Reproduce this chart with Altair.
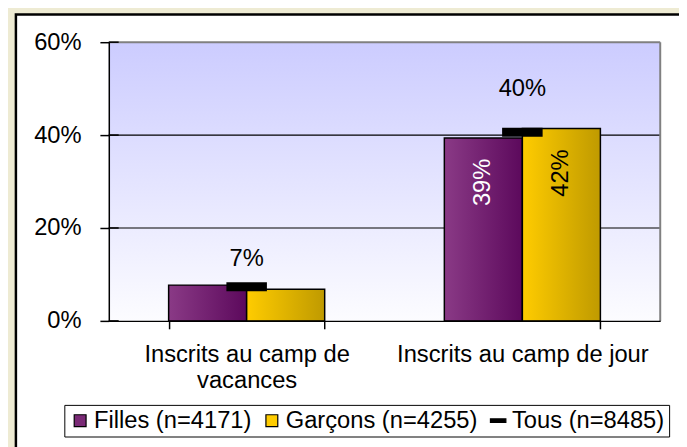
import altair as alt
import pandas as pd

FONT = "Liberation Sans"

categories = ["Inscrits au camp de vacances", "Inscrits au camp de jour"]
sexes = ["Filles", "Garçons"]
filles = [7.7, 39.4]
garcons = [6.8, 41.4]
tous = [7.35, 40.6]
filles_labels = ["", "39%"]
garcons_labels = ["", "42%"]
tous_labels = ["7%", "40%"]
y_ticks = [0, 20, 40, 60]
grid_values = [20, 40]
legend_names = ["Filles (n=4171)", "Garçons (n=4255)", "Tous (n=8485)"]
legend_colors = ["#7A2A76", "#FFCC00", "#000000"]
legend_shapes = ["square", "square", "M-1.3,-0.3H1.3V0.3H-1.3Z"]

bars_df = pd.DataFrame({
    "category": categories * 2,
    "sex": [sexes[0]] * 2 + [sexes[1]] * 2,
    "value": filles + garcons,
    "label": filles_labels + garcons_labels,
})
tous_df = pd.DataFrame({"category": categories, "value": tous, "label": tous_labels})
grid_df = pd.DataFrame({"value": grid_values})
ticks_df = pd.DataFrame({"value": y_ticks})
legend_df = pd.DataFrame({"series": legend_names})
one = pd.DataFrame({"k": [0]})

x_enc = alt.X(
    "category:N",
    sort=categories,
    scale=alt.Scale(domain=categories, paddingInner=0.434, paddingOuter=0.217),
    axis=alt.Axis(
        title=None, labelAngle=0, tickBand="extent", grid=False,
        labelFontSize=24, labelFont=FONT, labelColor="black", labelLineHeight=26,
        labelPadding=14, tickSize=8, tickColor="black", domainColor="black",
        domainWidth=1.5, tickWidth=1.5, labelBaseline="top", zindex=1, labelLimit=400,
        labelExpr="datum.value == 'Inscrits au camp de vacances' ? ['Inscrits au camp de', 'vacances'] : datum.label",
    ),
)
y_enc = alt.Y(
    "value:Q",
    scale=alt.Scale(domain=[0, 60], nice=False),
    axis=alt.Axis(
        title=None, values=y_ticks, grid=False, labelExpr="datum.value + '%'",
        labelFontSize=24, labelFont=FONT, labelColor="black", labelPadding=19,
        tickSize=9, tickColor="black", tickWidth=1.5, domainColor="black",
        domainWidth=1.5, zindex=1,
    ),
)
xoff = alt.XOffset("sex:N", scale=alt.Scale(domain=sexes, paddingInner=0, paddingOuter=0))

frame = alt.Chart(one).mark_rect(fill="white", stroke="black", strokeWidth=2.5).encode(
    x=alt.value(-94), x2=alt.value(600), y=alt.value(-28), y2=alt.value(430)
)
bg = alt.Chart(one).mark_rect(
    color={"gradient": "linear", "x1": 0, "x2": 0, "y1": 0, "y2": 1,
           "stops": [{"offset": 0, "color": "#CCCCFF"}, {"offset": 1, "color": "#FCFCFF"}]}
).encode(x=alt.value(0), x2=alt.value("width"), y=alt.value(0), y2=alt.value("height"))

grid = alt.Chart(grid_df).mark_rule(color="black", strokeWidth=1.2).encode(
    y=y_enc, x=alt.value(0), x2=alt.value("width"),
)
inner_ticks = alt.Chart(ticks_df).mark_rule(color="black", strokeWidth=1.5).encode(
    y=y_enc, x=alt.value(0), x2=alt.value(10),
)
border_top = alt.Chart(one).mark_rule(color="#808080", strokeWidth=2).encode(
    x=alt.value(0), x2=alt.value("width"), y=alt.value(0)
)
border_right = alt.Chart(one).mark_rule(color="#808080", strokeWidth=2).encode(
    x=alt.value("width"), y=alt.value(0), y2=alt.value("height")
)

grad_purple = {"gradient": "linear", "x1": 0, "x2": 1, "y1": 0, "y2": 0,
               "stops": [{"offset": 0, "color": "#8A3A86"}, {"offset": 1, "color": "#5C095C"}]}
grad_yellow = {"gradient": "linear", "x1": 0, "x2": 1, "y1": 0, "y2": 0,
               "stops": [{"offset": 0, "color": "#FFCC00"}, {"offset": 1, "color": "#BF9A00"}]}

bars_f = alt.Chart(bars_df).transform_filter(alt.datum.sex == "Filles").mark_bar(
    color=grad_purple, stroke="black", strokeWidth=1.5
).encode(x=x_enc, xOffset=xoff, y=y_enc)
bars_g = alt.Chart(bars_df).transform_filter(alt.datum.sex == "Garçons").mark_bar(
    color=grad_yellow, stroke="black", strokeWidth=1.5
).encode(x=x_enc, xOffset=xoff, y=y_enc)

tick = alt.Chart(tous_df).mark_tick(color="black", thickness=9, size=41, opacity=1).encode(
    x=x_enc, y=y_enc
)
top_labels = alt.Chart(tous_df).mark_text(
    font=FONT, fontSize=24, color="black", baseline="middle",
    dy=alt.ExprRef(expr="datum.value > 20 ? -44 : -28"),
).encode(x=x_enc, y=y_enc, text="label:N")

bar_labels = alt.Chart(bars_df).mark_text(
    font=FONT, fontSize=24, angle=270, align="right", baseline="middle", dx=-21
).encode(
    x=x_enc, xOffset=xoff, y=y_enc, text="label:N",
    color=alt.condition(alt.datum.sex == "Filles", alt.value("white"), alt.value("black")),
)

leg = alt.Legend(
    title=None, orient="none", legendX=-45, legendY=367, direction="horizontal",
    labelFontSize=24, labelFont=FONT, labelColor="black", symbolSize=144,
    strokeColor="black", fillColor="white", padding=4, columnPadding=8,
    labelOffset=2, symbolStrokeColor="black", symbolStrokeWidth=1.2, labelLimit=400,
)
legend_layer = alt.Chart(legend_df).transform_filter("false").mark_point(
    filled=True, size=144, stroke="black", strokeWidth=1.2, opacity=1
).encode(
    color=alt.Color("series:N", scale=alt.Scale(domain=legend_names, range=legend_colors), legend=leg),
    shape=alt.Shape("series:N", scale=alt.Scale(domain=legend_names, range=legend_shapes), legend=leg),
)

chart = alt.layer(
    frame, bg, grid, border_top, border_right, bars_f, bars_g, tick, top_labels, bar_labels,
    inner_ticks, legend_layer
).properties(
    width=558, height=282, autosize="none",
    padding={"left": 102, "top": 32, "right": 19, "bottom": 125},
    background="#EEEBD3",
).configure_view(stroke=None)

chart.save("out.html", embed_options={"renderer": "svg", "actions": False})
